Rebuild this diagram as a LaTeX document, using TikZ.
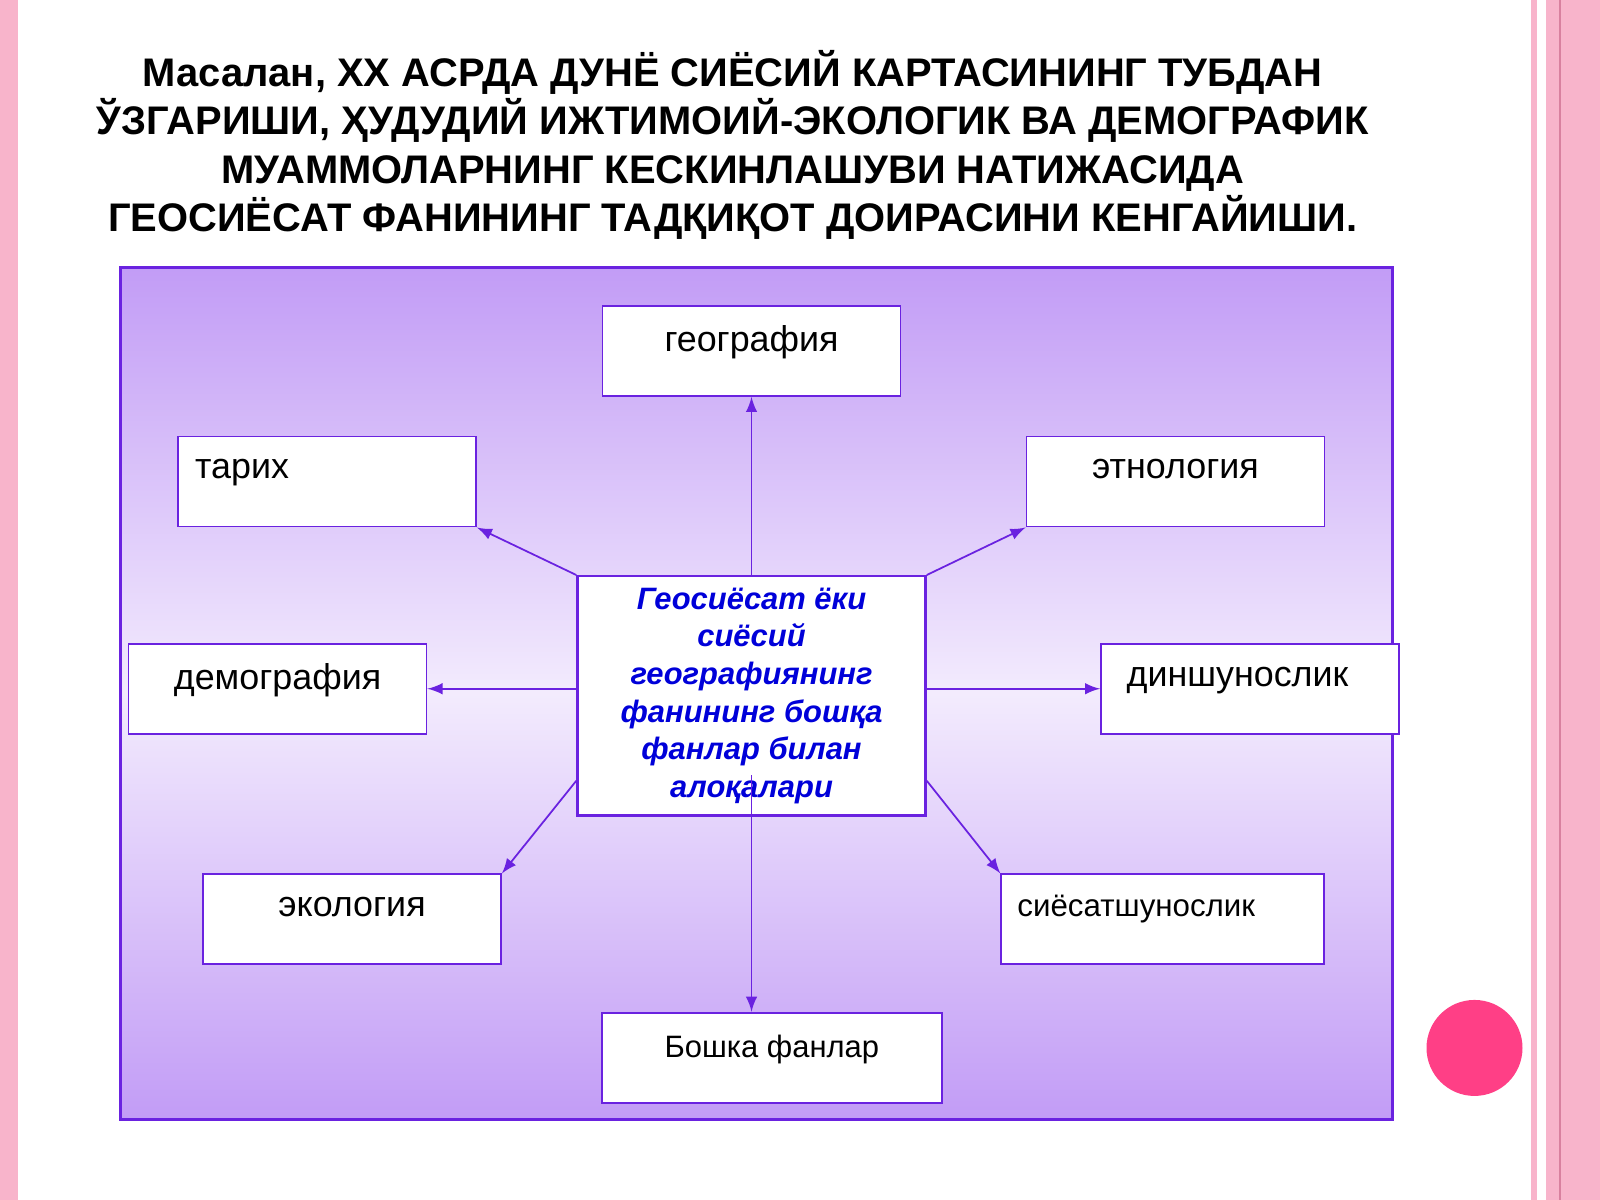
\documentclass[tikz,border=0pt]{standalone}
\usepackage{fontspec}
\setmainfont{Liberation Sans}
\definecolor{stripe}{HTML}{F8B4CB}
\definecolor{stripedark}{HTML}{D9809F}
\definecolor{frame}{HTML}{6A22E0}
\definecolor{panel}{HTML}{C29CF6}
\definecolor{dot}{HTML}{FF3F86}
\tikzset{%
  subject/.style = {shape=rectangle, draw=frame, fill=white, line width=0.5pt,%
                    minimum width=2.98cm, minimum height=0.90cm,%
                    font=\fontsize{10.2}{12}\selectfont, inner sep=0pt},%
  hub/.style     = {shape=rectangle, draw=frame, fill=white, line width=0.7pt,%
                    minimum width=3.48cm, minimum height=2.37cm, align=center,%
                    text=blue!85!black, font=\fontsize{8.8}{10.7}\selectfont\bfseries\itshape},%
  link/.style    = {draw=frame, line width=0.5pt, -latex}%
}
\begin{document}
\begin{tikzpicture}[x=1.0204cm, y=1.0204cm]
  \useasboundingbox (0,0.24) rectangle (15.68,12);
  % slide background
  \fill[white] (0,0.24) rectangle (15.68,12);
  \fill[stripe] (0,0.24) rectangle (0.18,12);
  \fill[stripe] (15.00,0.24) rectangle (15.06,12);
  \fill[stripe] (15.15,0.24) rectangle (15.68,12);
  \draw[stripedark, line width=0.6pt] (15.29,0.24) -- (15.29,12);
  \fill[dot] (14.45,1.73) circle (0.48cm);
  % title
  \node[align=center, font=\fontsize{11.35}{13.7}\selectfont\bfseries] (title) at (7.18,10.58)
    {Масалан, ХХ АСРДА ДУНЁ СИЁСИЙ КАРТАСИНИНГ ТУБДАН\\
     ЎЗГАРИШИ, ҲУДУДИЙ ИЖТИМОИЙ-ЭКОЛОГИК ВА ДЕМОГРАФИК\\
     МУАММОЛАРНИНГ КЕСКИНЛАШУВИ НАТИЖАСИДА\\
     ГЕОСИЁСАТ ФАНИНИНГ ТАДҚИҚОТ ДОИРАСИНИ КЕНГАЙИШИ.};
  % panel
  \shade[top color=panel, bottom color=panel, middle color=white!80!panel]
    (1.18,1.03) rectangle (13.65,9.38);
  \draw[frame, line width=0.8pt] (1.18,1.03) rectangle (13.65,9.38);
  % nodes
  \node[hub] (hub) at (7.365,5.18) {Геосиёсат ёки\\сиёсий\\географиянинг\\фанининг бошқа\\фанлар билан\\алоқалари};
  \node[subject] (geo) at (7.365,8.56) {\raisebox{1.3ex}{география}};
  \node[subject] (hist) at (3.205,7.28) {\hspace*{-1.7cm}\raisebox{1.3ex}{тарих}};
  \node[subject] (ethn) at (11.52,7.28) {\raisebox{1.3ex}{этнология}};
  \node[subject] (demo) at (2.72,5.25) {\raisebox{1.3ex}{демография}};
  \node[subject] (rel) at (12.25,5.25) {\hspace*{-0.25cm}\raisebox{1.3ex}{диншунослик}};
  \node[subject] (eco) at (3.45,2.99) {\raisebox{1.3ex}{экология}};
  \node[subject, minimum width=3.23cm, font=\fontsize{8.9}{10}\selectfont] (pol) at (11.395,2.99)
    {\hspace*{-0.53cm}\raisebox{1.6ex}{сиёсатшунослик}};
  \node[subject, minimum width=3.40cm, font=\fontsize{8.8}{10}\selectfont] (other) at (7.565,1.635)
    {\raisebox{1.4ex}{Бошка фанлар}};
  \coordinate (hubin) at (7.365,4.40);
  % connectors
  \draw[link] (hub.north) -- (geo.south);
  \draw[link] (hub.north west) -- (hist.south east);
  \draw[link] (hub.north east) -- (ethn.south west);
  \draw[link] (hub.west |- demo) -- (demo.east);
  \draw[link] (hub.east |- rel) -- (rel.west);
  \draw[link] ([yshift=-0.92cm]hub.west |- demo) -- (eco.north east);
  \draw[link] ([yshift=-0.92cm]hub.east |- rel) -- (pol.north west);
  \draw[link] (hubin) -- (hubin |- other.north);
\end{tikzpicture}
\end{document}
